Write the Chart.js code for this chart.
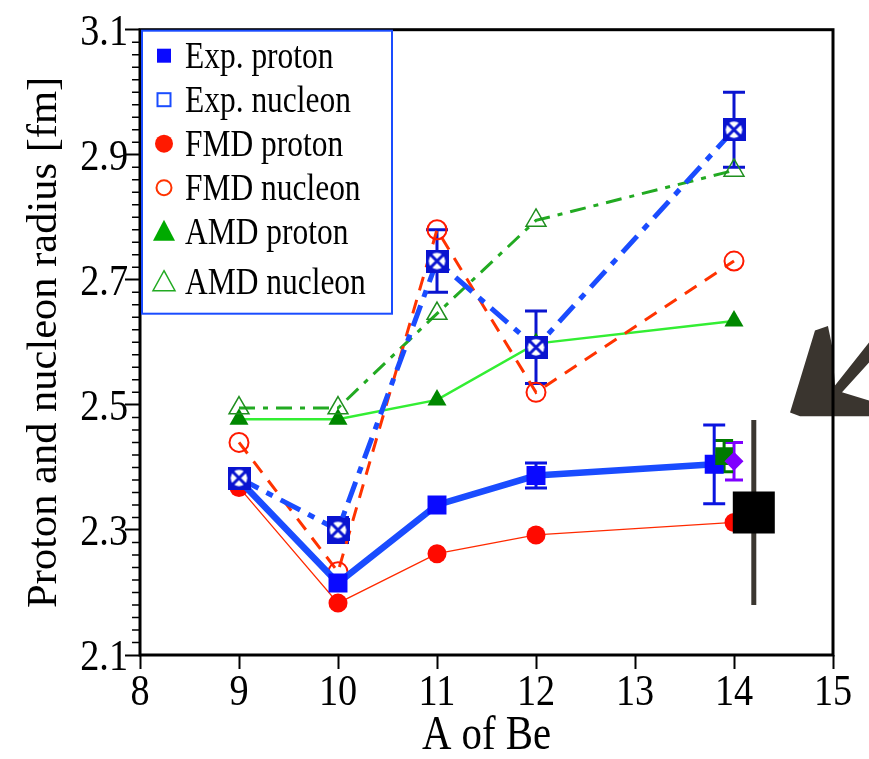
<!DOCTYPE html>
<html>
<head>
<meta charset="utf-8">
<title>Proton and nucleon radius of Be isotopes</title>
<script src="https://cdn.jsdelivr.net/npm/chart.js@4.4.1/dist/chart.umd.min.js"></script>
<style>
  html, body { margin: 0; padding: 0; background: #fff; }
  #wrap { width: 869px; height: 759px; }
</style>
</head>
<body>
<div id="wrap"><canvas id="myChart" width="869" height="759"></canvas></div>
<script>
'use strict';

// data
const seriesLabels = ['Exp. proton', 'Exp. nucleon', 'FMD proton', 'FMD nucleon', 'AMD proton', 'AMD nucleon'];
const massNumbers = [9, 10, 11, 12, 14];
const expProtonMass = [9, 10, 11, 12, 13.8];
const expProton = [2.38, 2.215, 2.34, 2.387, 2.405];
const expProtonErr = [0, 0, 0, 0.02, 0.063];
const expNucleon = [2.383, 2.30, 2.73, 2.592, 2.94];
const expNucleonErr = [0, 0.02, 0.05, 0.058, 0.06];
const fmdProton = [2.368, 2.183, 2.262, 2.292, 2.312];
const fmdNucleon = [2.44, 2.233, 2.78, 2.52, 2.73];
const amdProton = [2.477, 2.477, 2.508, 2.598, 2.634];
const amdNucleon = [2.495, 2.495, 2.646, 2.795, 2.875];

// extra points near A = 14 (green square, purple diamond, black square)
const extraMass = [13.9, 14.0, 14.2];
const extraRadius = [2.418, 2.41, 2.328];
const extraErr = [0.025, 0.03, 0.148];

const xTicks = [8, 9, 10, 11, 12, 13, 14, 15];
const yTicks = [2.1, 2.3, 2.5, 2.7, 2.9, 3.1];
const yMinorStep = 0.02;
const xTitle = 'A of Be';
const yTitle = 'Proton and nucleon radius [fm]';

// hand drawn arrow at the right edge, in data units
const arrowX = [14.566, 14.818, 14.949, 14.99, 15.02, 15.364, 15.364, 15.091, 15.364, 15.364, 14.667];
const arrowY = [2.488, 2.619, 2.626, 2.595, 2.531, 2.600, 2.568, 2.520, 2.507, 2.482, 2.482];

const serif = "'Liberation Serif', 'Times New Roman', serif";
const squeeze = 0.85; // the figure's horizontal text is a bit narrow

function pts(xs, ys) {
  return xs.map((x, i) => ({x: x, y: ys[i]}));
}

// open square with a crossed circle, used for Exp. nucleon
function crossedSquare() {
  let c = document.createElement('canvas');
  c.width = 23;
  c.height = 23;
  let g = c.getContext('2d');
  g.fillStyle = '#0a14d0';
  g.fillRect(0, 0, 23, 23);
  g.fillStyle = '#fff';
  g.beginPath();
  g.arc(11.5, 11.5, 8.3, 0, Math.PI * 2);
  g.fill();
  g.strokeStyle = '#0a14d0';
  g.lineWidth = 3;
  g.beginPath();
  g.moveTo(5, 5); g.lineTo(18, 18);
  g.moveTo(18, 5); g.lineTo(5, 18);
  g.stroke();
  return c;
}

const datasets = [
  {
    label: 'extra black',
    data: pts([extraMass[2]], [extraRadius[2]]),
    yErr: [extraErr[2]], errColor: '#3b3731', errWidth: 5, errCap: 0,
    showLine: false, pointStyle: 'rect', pointRadius: 29.7,
    backgroundColor: '#000', borderWidth: 0
  },
  {
    label: 'extra purple',
    data: pts([extraMass[1]], [extraRadius[1]]),
    yErr: [extraErr[1]], errColor: '#7f00ff', errWidth: 3, errCap: 9,
    showLine: false, pointStyle: 'rectRot', pointRadius: 9.5,
    backgroundColor: '#8000ff', borderWidth: 0
  },
  {
    label: 'extra green',
    data: pts([extraMass[0]], [extraRadius[0]]),
    yErr: [extraErr[0]], errColor: '#007a00', errWidth: 3, errCap: 9,
    showLine: false, pointStyle: 'rect', pointRadius: 12.5,
    backgroundColor: '#007a00', borderWidth: 0
  },
  {
    label: seriesLabels[1],
    data: pts(massNumbers, expNucleon),
    yErr: expNucleonErr, errColor: '#0a14d0', errWidth: 3, errCap: 11,
    showLine: true, borderColor: '#1a4cff', borderWidth: 5, borderDash: [22, 9, 7, 9],
    pointStyle: crossedSquare(), pointRadius: 11
  },
  {
    label: seriesLabels[0],
    data: pts(expProtonMass, expProton),
    yErr: expProtonErr, errColor: '#0a14e0', errWidth: 3, errCap: 11,
    showLine: true, borderColor: '#1a4cff', borderWidth: 6.5,
    pointStyle: 'rect', pointRadius: 13.4, pointBackgroundColor: '#0a0aff', pointBorderWidth: 0
  },
  {
    label: seriesLabels[3],
    data: pts(massNumbers, fmdNucleon),
    showLine: true, borderColor: '#ff3300', borderWidth: 3, borderDash: [14, 10],
    pointStyle: 'circle', pointRadius: 9.5, pointBorderColor: '#ff1a00',
    pointBackgroundColor: 'rgba(0,0,0,0)', pointBorderWidth: 2
  },
  {
    label: seriesLabels[2],
    data: pts(massNumbers, fmdProton),
    showLine: true, borderColor: '#ff2a00', borderWidth: 1.3,
    pointStyle: 'circle', pointRadius: 9.5, pointBackgroundColor: '#ff0a00', pointBorderWidth: 0
  },
  {
    label: seriesLabels[5],
    data: pts(massNumbers, amdNucleon),
    showLine: true, borderColor: '#22aa22', borderWidth: 3, borderDash: [16, 8, 5, 8],
    pointStyle: 'triangle', pointRadius: 11.5, pointBorderColor: '#1f8f1f',
    pointBackgroundColor: 'rgba(0,0,0,0)', pointBorderWidth: 1.5
  },
  {
    label: seriesLabels[4],
    data: pts(massNumbers, amdProton),
    showLine: true, borderColor: '#33ee33', borderWidth: 2.5,
    pointStyle: 'triangle', pointRadius: 11, pointBackgroundColor: '#008800', pointBorderWidth: 0
  }
];

const errorBarPlugin = {
  id: 'errorBars',
  beforeDatasetsDraw(chart) {
    const ctx = chart.ctx;
    const yScale = chart.scales.y;
    chart.data.datasets.forEach((ds, i) => {
      if (!ds.yErr) return;
      const meta = chart.getDatasetMeta(i);
      ctx.save();
      ctx.strokeStyle = ds.errColor;
      ctx.lineWidth = ds.errWidth;
      meta.data.forEach((pt, j) => {
        let err = ds.yErr[j];
        if (!err) return;
        let v = ds.data[j].y;
        let top = yScale.getPixelForValue(v + err);
        let bot = yScale.getPixelForValue(v - err);
        ctx.beginPath();
        ctx.moveTo(pt.x, top);
        ctx.lineTo(pt.x, bot);
        if (ds.errCap) {
          ctx.moveTo(pt.x - ds.errCap, top);
          ctx.lineTo(pt.x + ds.errCap, top);
          ctx.moveTo(pt.x - ds.errCap, bot);
          ctx.lineTo(pt.x + ds.errCap, bot);
        }
        ctx.stroke();
      });
      ctx.restore();
    });
  }
};

// text drawn on the canvas, optionally narrowed or rotated
function figText(ctx, text, x, y, size, align, rotated, narrow) {
  ctx.save();
  ctx.translate(x, y);
  if (narrow) ctx.scale(squeeze, 1);
  if (rotated) ctx.rotate(-Math.PI / 2);
  ctx.font = size + 'px ' + serif;
  ctx.fillStyle = '#000';
  ctx.textAlign = align;
  ctx.textBaseline = 'alphabetic';
  ctx.fillText(text, 0, 0);
  ctx.restore();
}

function legendMarker(ctx, kind, x, y) {
  ctx.save();
  ctx.lineWidth = 2;
  ctx.beginPath();
  if (kind === 0) {
    ctx.fillStyle = '#0a0aff';
    ctx.fillRect(x - 7, y - 7, 14, 14);
  } else if (kind === 1) {
    ctx.strokeStyle = '#1a4cff';
    ctx.strokeRect(x - 6.5, y - 6.5, 13, 13);
  } else if (kind === 2) {
    ctx.fillStyle = '#ff1a00';
    ctx.arc(x, y, 9, 0, Math.PI * 2);
    ctx.fill();
  } else if (kind === 3) {
    ctx.strokeStyle = '#ff3300';
    ctx.arc(x, y, 7.5, 0, Math.PI * 2);
    ctx.stroke();
  } else if (kind === 4) {
    ctx.fillStyle = '#00aa00';
    ctx.moveTo(x, y - 12); ctx.lineTo(x + 11, y + 9); ctx.lineTo(x - 11, y + 9);
    ctx.closePath();
    ctx.fill();
  } else {
    ctx.strokeStyle = '#22aa22';
    ctx.lineWidth = 1.5;
    ctx.moveTo(x, y - 11); ctx.lineTo(x + 11, y + 9); ctx.lineTo(x - 11, y + 9);
    ctx.closePath();
    ctx.stroke();
  }
  ctx.restore();
}

const framePlugin = {
  id: 'frameAndLegend',
  afterDatasetsDraw(chart) {
    const ctx = chart.ctx;
    const area = chart.chartArea;
    const xs = chart.scales.x;
    const ys = chart.scales.y;

    // arrow scribble
    ctx.save();
    ctx.fillStyle = '#3a352f';
    ctx.beginPath();
    arrowX.forEach((v, i) => {
      let px = xs.getPixelForValue(v);
      let py = ys.getPixelForValue(arrowY[i]);
      if (i === 0) ctx.moveTo(px, py); else ctx.lineTo(px, py);
    });
    ctx.closePath();
    ctx.fill();
    ctx.restore();

    // frame
    ctx.save();
    ctx.strokeStyle = '#000';
    ctx.lineWidth = 3;
    ctx.strokeRect(area.left, area.top, area.right - area.left, area.bottom - area.top);

    // minor ticks on y
    ctx.lineWidth = 1.5;
    ctx.beginPath();
    let n = Math.round((ys.max - ys.min) / yMinorStep);
    for (let i = 1; i < n; i++) {
      if (i % 10 === 0) continue;
      let py = ys.getPixelForValue(ys.min + i * yMinorStep);
      ctx.moveTo(area.left - 8, py);
      ctx.lineTo(area.left, py);
    }
    ctx.stroke();
    ctx.restore();

    // tick labels and titles
    yTicks.forEach((v) => {
      figText(ctx, v.toFixed(1), area.left - 12, ys.getPixelForValue(v) + 15, 45, 'right', false, true);
    });
    xTicks.forEach((v) => {
      figText(ctx, String(v), xs.getPixelForValue(v), area.bottom + 50, 45, 'center', false, true);
    });
    figText(ctx, xTitle, (area.left + area.right) / 2, 749, 48, 'center', false, true);
    figText(ctx, yTitle, 56, (area.top + area.bottom) / 2, 42.5, 'center', true, false);

    // legend box
    ctx.save();
    let bx = area.left + 2, by = area.top + 1, bw = 250, bh = 283;
    ctx.fillStyle = '#fff';
    ctx.fillRect(bx, by, bw, bh);
    ctx.strokeStyle = '#1a4cff';
    ctx.lineWidth = 2;
    ctx.strokeRect(bx, by, bw, bh);
    ctx.restore();
    seriesLabels.forEach((lab, i) => {
      let rowY = by + 25 + i * 44 + (i === 5 ? 6 : 0);
      legendMarker(ctx, i, bx + 22, rowY);
      figText(ctx, lab, bx + 43, rowY + 12, 37, 'left', false, true);
    });
  }
};

const ctx = document.getElementById('myChart');

new Chart(ctx, {
  type: 'scatter',
  data: { datasets: datasets },
  options: {
    responsive: false,
    animation: false,
    devicePixelRatio: 1,
    layout: { padding: { left: 0, top: 29, right: 36, bottom: 0 } },
    elements: { line: { tension: 0 } },
    plugins: { legend: { display: false }, tooltip: { enabled: false } },
    scales: {
      x: {
        type: 'linear',
        min: 8,
        max: 15,
        afterBuildTicks: (scale) => { scale.ticks = xTicks.map(v => ({value: v})); },
        afterFit: (scale) => { scale.height = 104; },
        ticks: { display: false },
        grid: { drawOnChartArea: false, drawTicks: true, tickLength: 14, tickColor: '#000', tickWidth: 2 },
        border: { display: false },
        title: { display: false, text: xTitle }
      },
      y: {
        type: 'linear',
        min: 2.1,
        max: 3.1,
        afterBuildTicks: (scale) => { scale.ticks = yTicks.map(v => ({value: v})); },
        afterFit: (scale) => { scale.width = 140; },
        ticks: { display: false },
        grid: { drawOnChartArea: false, drawTicks: true, tickLength: 15, tickColor: '#000', tickWidth: 2 },
        border: { display: false },
        title: { display: false, text: yTitle }
      }
    }
  },
  plugins: [errorBarPlugin, framePlugin]
});
</script>
</body>
</html>
